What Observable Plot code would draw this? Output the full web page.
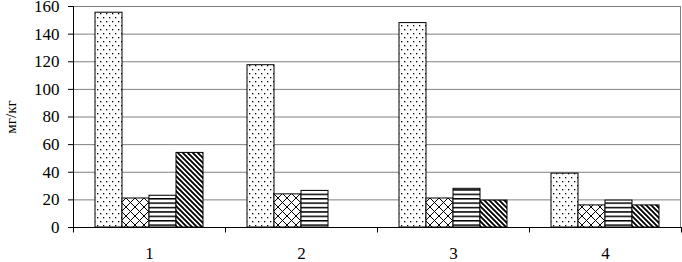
<!DOCTYPE html>
<html><head><meta charset="utf-8">
<script src="https://cdn.jsdelivr.net/npm/d3@7"></script>
<script src="https://cdn.jsdelivr.net/npm/@observablehq/plot@0.6"></script>
<style>
body{margin:0;background:#fff}
</style>
</head><body><div id="chart"></div>
<script>
const groups = ["1", "2", "3", "4"];
const seriesNames = ["s1", "s2", "s3", "s4"];
const s1 = [155.5, 117.5, 148, 39];
const s2 = [21, 24, 21, 16];
const s3 = [23, 26.5, 28, 19.5];
const s4 = [54, null, 19.5, 16];
const yTicks = [0, 20, 40, 60, 80, 100, 120, 140, 160];
const yLabel = "мг/кг";
const patternIds = ["dots", "cross", "hlines", "diag"];
const serif = "Liberation Serif, DejaVu Serif, serif";

const seriesValues = [s1, s2, s3, s4];
const data = [];
groups.forEach((g, i) => seriesValues.forEach((arr, j) => {
  if (arr[i] != null) data.push({group: g, series: seriesNames[j], value: arr[i]});
}));

const chart = Plot.plot({
  width: 682, height: 262,
  marginLeft: 73, marginRight: 1, marginTop: 6, marginBottom: 35,
  style: {fontFamily: serif, fontSize: "17px", background: "white", color: "black"},
  fx: {domain: groups, padding: 0, axis: "bottom", tickSize: 0, tickPadding: 19, label: null},
  x: {domain: seriesNames, paddingInner: 0, paddingOuter: 0.74, axis: null},
  y: {domain: [0, 160], ticks: yTicks, tickSize: 5, tickPadding: 9, label: yLabel, labelArrow: false, labelAnchor: "center", labelOffset: 68},
  color: {type: "ordinal", domain: seriesNames, range: patternIds.map(id => `url(#${id})`)},
  marks: [
    Plot.gridY(yTicks, {stroke: "#808080", strokeOpacity: 1}),
    Plot.barY(data, {fx: "group", x: "series", y: "value", fill: "series", stroke: "black", strokeWidth: 1}),
    Plot.ruleY([0], {stroke: "black"})
  ]
});

const svg = d3.select(chart);
svg.selectAll("g[aria-label='y-axis label'] text").text(yLabel);
svg.selectAll("text").style("font-family", serif).style("font-size", "17px");
svg.selectAll("g[aria-label='y-axis label'] text").style("font-size", "15px");
const defs = svg.insert("defs", ":first-child");
function pat(id, w, h) {
  const p = defs.append("pattern").attr("id", id).attr("patternUnits", "userSpaceOnUse").attr("width", w).attr("height", h);
  p.append("rect").attr("width", w).attr("height", h).attr("fill", "white");
  return p;
}
let p = pat("dots", 6, 8);
p.append("rect").attr("x", 1).attr("y", 1).attr("width", 1.3).attr("height", 1.3).attr("fill", "black");
p.append("rect").attr("x", 4).attr("y", 5).attr("width", 1.3).attr("height", 1.3).attr("fill", "black");
p = pat("cross", 9, 9);
p.append("path").attr("d", "M-1,-1L10,10M10,-1L-1,10").attr("stroke", "black").attr("stroke-width", 1).attr("fill", "none");
p = pat("hlines", 4, 4.4);
p.append("rect").attr("x", 0).attr("y", 0).attr("width", 4).attr("height", 1.5).attr("fill", "black");
p = pat("diag", 5, 5);
p.append("path").attr("d", "M-1,-1L6,6M-1,4L1,6M4,-1L6,1").attr("stroke", "black").attr("stroke-width", 1.9).attr("fill", "none");

const fx = chart.scale("fx"), y = chart.scale("y");
const y0 = y.apply(0), yTop = y.apply(160);
const edges = groups.map(g => fx.apply(g));
edges.push(fx.apply(groups[groups.length - 1]) + fx.bandwidth);
const g = svg.append("g").attr("fill", "none");
g.append("line").attr("x1", edges[edges.length - 1] - 0.5).attr("x2", edges[edges.length - 1] - 0.5)
  .attr("y1", yTop).attr("y2", y0).attr("stroke", "#808080");
g.append("line").attr("x1", Math.round(edges[0]) + 0.5).attr("x2", Math.round(edges[0]) + 0.5)
  .attr("y1", yTop).attr("y2", y0 + 5).attr("stroke", "black");
edges.forEach(x => {
  const xx = Math.min(Math.round(x) + 0.5, 681.5);
  g.append("line").attr("x1", xx).attr("x2", xx).attr("y1", y0).attr("y2", y0 + 5.5).attr("stroke", "black");
});

document.getElementById("chart").appendChild(chart);
</script>
</body></html>
